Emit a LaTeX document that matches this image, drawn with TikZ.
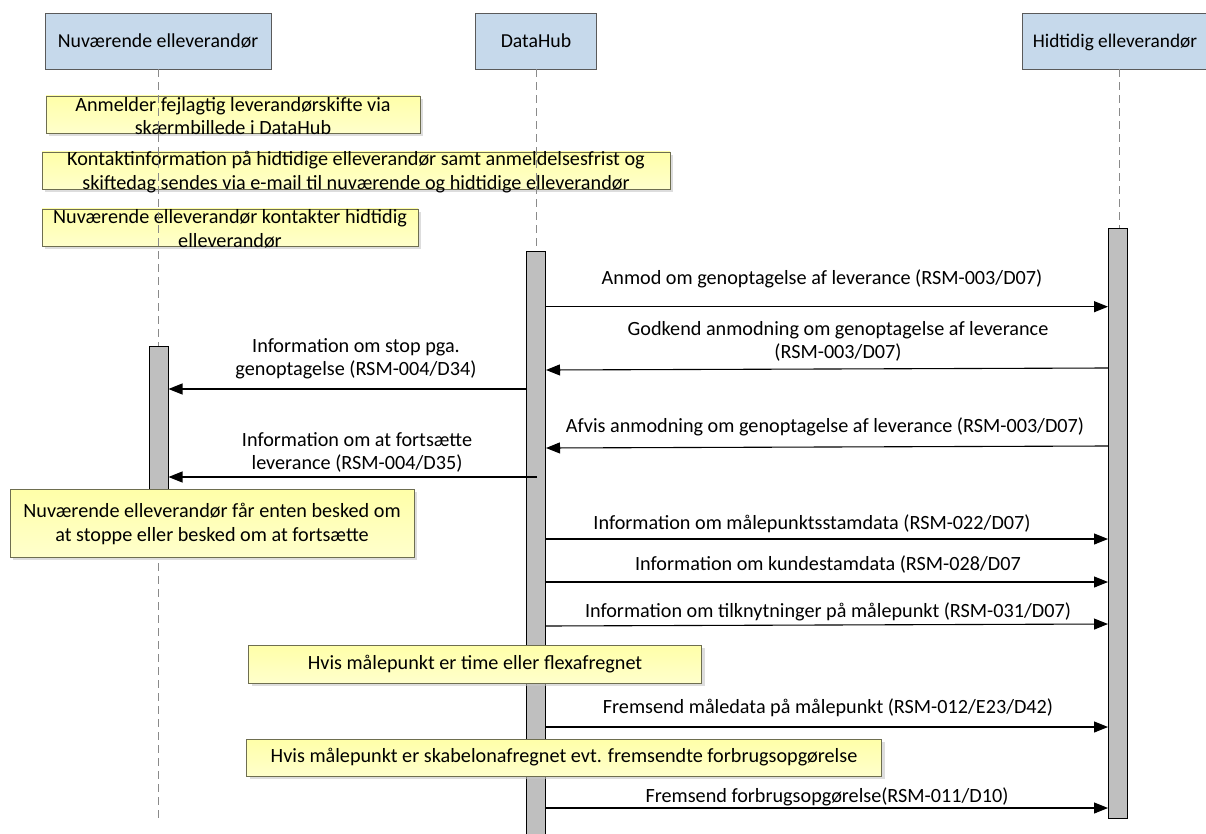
\documentclass[tikz,border=0pt]{standalone}
\usepackage{fontspec}
\setmainfont{Carlito}
\usetikzlibrary{arrows.meta,shadows}
\definecolor{hdrfill}{HTML}{C6D9EB}
\definecolor{hdrline}{HTML}{5A5A5A}
\definecolor{notetop}{HTML}{FFFFA8}
\definecolor{notebot}{HTML}{FFFFCC}
\definecolor{noteline}{HTML}{6E6E50}
\definecolor{barfill}{HTML}{BFBFBF}
\definecolor{lifegray}{HTML}{8A8A8A}
\tikzset{
  hdr/.style={draw=hdrline, line width=0.9pt, fill=hdrfill, minimum height=56pt, inner sep=0pt, font=\fontsize{19.8}{23}\selectfont},
  notebox/.style={draw=noteline, line width=0.9pt, top color=notetop, bottom color=notebot, inner sep=0pt,
     drop shadow={shadow xshift=3pt, shadow yshift=-3pt, fill=black!22, opacity=0.6}},
  notetext/.style={inner sep=0pt, align=center, font=\fontsize{20.2}{23.5}\selectfont},
  actbar/.style={draw=black, line width=1pt, fill=barfill, inner sep=0pt, minimum width=19pt},
  lifeline/.style={draw=lifegray, line width=0.9pt, dash pattern=on 8pt off 5pt},
  msg/.style={draw=black, line width=1.1pt, -{Triangle[length=14pt,width=11pt]}},
  msglabel/.style={inner sep=0pt, align=center, font=\fontsize{20.2}{23}\selectfont},
}
\begin{document}
\begin{tikzpicture}[x=1pt,y=-1pt]
\useasboundingbox (0,0) rectangle (1206,834);
% headers
\node[hdr, minimum width=226pt] (nuv) at (158,41) {Nuværende elleverandør};
\node[hdr, minimum width=121pt] (dh) at (536,41) {DataHub};
\node[hdr, minimum width=194pt] (hid) at (1119,41) {};
\node[inner sep=0pt, font=\fontsize{19.3}{23}\selectfont] (hidtxt) at (1115,42) {Hidtidig elleverandør};
% first notes (lifelines drawn over them)
\node[notebox, minimum width=374pt, minimum height=37pt] (n1) at (233,114.5) {};
\node[notetext] (n1t) at (233,116) {Anmelder fejlagtig leverandørskifte via\\skærmbillede i DataHub};
\node[notebox, minimum width=628pt, minimum height=37pt] (n2) at (356,170.5) {};
\node[notetext] (n2t) at (356,172) {Kontaktinformation på hidtidige elleverandør samt anmeldelsesfrist og\\skiftedag sendes via e-mail til nuværende og hidtidige elleverandør};
\node[notebox, minimum width=376pt, minimum height=37pt] (n3) at (230,227.5) {};
\node[notetext] (n3t) at (230,229) {Nuværende elleverandør kontakter hidtidig\\elleverandør};
% lifeline ends
\coordinate (nuvend) at (158,818);
\coordinate (dhend) at (536,834);
\coordinate (hidend) at (1119,228);
\draw[lifeline] (nuv.south) -- (nuvend);
\draw[lifeline] (dh.south) -- (dhend);
\draw[lifeline] (hid.south) -- (hidend);
% activation bars
\node[actbar, minimum height=600pt, anchor=north] (dhbar) at (536,251) {};
\node[actbar, minimum height=590pt, anchor=north] (hidbar) at (1118,228) {};
\node[actbar, minimum height=170pt, anchor=north] (nuvbar) at (158.5,346) {};
% later notes
\node[notebox, minimum width=404pt, minimum height=68pt] (n4) at (212,523) {};
\node[notetext] (n4t) at (212,524) {Nuværende elleverandør får enten besked om\\at stoppe eller besked om at fortsætte};
\node[notebox, minimum width=453pt, minimum height=38pt] (n5) at (475,664) {};
\node[notetext] (n5t) at (475,664) {Hvis målepunkt er time eller flexafregnet};
\node[notebox, minimum width=635pt, minimum height=37pt] (n6) at (564,757.5) {};
\node[notetext] (n6t) at (564,757.5) {Hvis målepunkt er skabelonafregnet evt. fremsendte forbrugsopgørelse};
% messages
\draw[msg] (dhbar.east |- 0,306.7) -- (hidbar.west |- 0,306.7);
\node[msglabel] (l1) at (822,279) {Anmod om genoptagelse af leverance (RSM-003/D07)};
\draw[msg] (hidbar.west |- 0,368) -- (dhbar.east |- 0,370);
\node[msglabel] (l2) at (838,341.5) {Godkend anmodning om genoptagelse af leverance\\(RSM-003/D07)};
\draw[msg] (dhbar.west |- 0,389) -- (nuvbar.east |- 0,389);
\node[msglabel] (l3) at (356,358.5) {Information om stop pga.\\genoptagelse (RSM-004/D34)};
\draw[msg] (hidbar.west |- 0,446) -- (dhbar.east |- 0,448);
\node[msglabel] (l4) at (825,427) {Afvis anmodning om genoptagelse af leverance (RSM-003/D07)};
\coordinate (fstart) at (537,477);
\draw[msg] (fstart) -- (nuvbar.east |- fstart);
\node[msglabel] (l5) at (357,452.5) {Information om at fortsætte\\leverance (RSM-004/D35)};
\draw[msg] (dhbar.east |- 0,539) -- (hidbar.west |- 0,539);
\node[msglabel] (l6) at (812,524) {Information om målepunktsstamdata (RSM-022/D07)};
\draw[msg] (dhbar.east |- 0,582) -- (hidbar.west |- 0,582);
\node[msglabel] (l7) at (828,565) {Information om kundestamdata (RSM-028/D07};
\draw[msg] (dhbar.east |- 0,626) -- (hidbar.west |- 0,624);
\node[msglabel] (l8) at (828,612) {Information om tilknytninger på målepunkt (RSM-031/D07)};
\draw[msg] (dhbar.east |- 0,727) -- (hidbar.west |- 0,727);
\node[msglabel] (l9) at (828,708) {Fremsend måledata på målepunkt (RSM-012/E23/D42)};
\draw[msg] (dhbar.east |- 0,808) -- (hidbar.west |- 0,808);
\node[msglabel] (l10) at (827,797) {Fremsend forbrugsopgørelse(RSM-011/D10)};
\end{tikzpicture}
\end{document}
